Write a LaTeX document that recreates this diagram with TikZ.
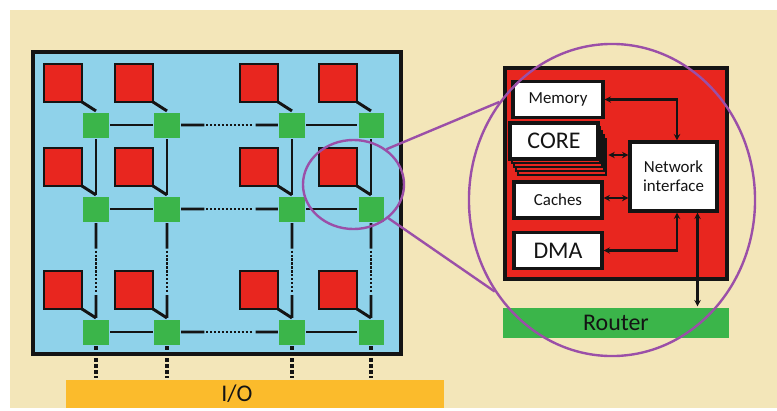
\documentclass[tikz,border=0pt]{standalone}
\usepackage{fontspec}
\setmainfont{Carlito}
\usetikzlibrary{arrows.meta,shapes.geometric,calc}
\definecolor{ink}{HTML}{141414}
\definecolor{paper}{HTML}{F3E6B9}
\definecolor{chip}{HTML}{8FD2EA}
\definecolor{tile}{HTML}{E8261F}
\definecolor{switch}{HTML}{3BB54A}
\definecolor{port}{HTML}{FBBB2C}
\definecolor{loupe}{HTML}{9B4FA8}

\begin{document}
\begin{tikzpicture}[
    x=0.025cm, y=-0.025cm, line width=2.2pt, color=ink,
    link/.style={line width=2.1pt},
    dotlink/.style={line width=2.1pt, dash pattern=on 1.6pt off 1.2pt},
    iolink/.style={line width=3pt, dash pattern=on 2.5pt off 1.8pt},
    router/.style={fill=switch, minimum size=0.625cm, inner sep=0pt},
    core/.style={draw=ink, fill=tile, line width=2.1pt, minimum size=0.95cm, inner sep=0pt},
    unit/.style={draw=ink, fill=white, line width=2.2pt, minimum width=2.2cm,
                 minimum height=0.9cm, inner sep=0pt, font=\fontsize{12}{13.5}\selectfont},
    big/.style={font=\fontsize{17}{20}\selectfont},
    bar/.style={inner sep=0pt, font=\fontsize{17}{20}\selectfont},
    bus/.style={line width=1.5pt, {Stealth[length=1.6mm,width=1.6mm]}-{Stealth[length=1.6mm,width=1.6mm]}},
    zoomring/.style={ellipse, draw=loupe, line width=1.7pt, inner sep=0pt}]
  % fixed 777 x 410 px canvas
  \path[use as bounding box] (0,0) rectangle (777,410);
  \fill[paper] (10,10) rectangle (777,408);

  % ================= 1) chip with 4 x 3 mesh =================
  \draw[fill=chip] (33,52) rectangle (401,354);
  \node[bar, fill=port, minimum width=9.45cm, minimum height=0.7cm] (io) at (255,394) {};
  \node[bar] (iotext) at (237,394) {I/O};
  % routers
  \foreach \x [count=\i] in {96,167,292,371}
    \foreach \y [count=\j] in {125,209,332}
      \node[router] (r-\i-\j) at (\x,\y) {};
  % horizontal links (dotted in the middle)
  \foreach \j in {1,2,3} {
    \draw[link] (r-1-\j) -- (r-2-\j) (r-3-\j) -- (r-4-\j);
    \draw[link] (r-2-\j.east) -- ($(r-2-\j.east)!0.24!(r-3-\j.west)$)
                ($(r-2-\j.east)!0.77!(r-3-\j.west)$) -- (r-3-\j.west);
    \draw[dotlink] ($(r-2-\j.east)!0.26!(r-3-\j.west)$) -- ($(r-2-\j.east)!0.73!(r-3-\j.west)$);
  }
  % vertical links and I/O ports
  \foreach \i in {1,...,4} {
    \draw[link] (r-\i-1) -- (r-\i-2);
    \draw[link] (r-\i-2.south) -- ($(r-\i-2.south)!0.27!(r-\i-3.north)$)
                ($(r-\i-2.south)!0.76!(r-\i-3.north)$) -- (r-\i-3.north);
    \draw[dotlink] ($(r-\i-2.south)!0.29!(r-\i-3.north)$) -- ($(r-\i-2.south)!0.74!(r-\i-3.north)$);
    \draw[iolink] (r-\i-3.south) -- (r-\i-3.south |- io.north);
  }
  % cores with their tails
  \foreach \x [count=\i] in {96,167,292,371}
    \foreach \y [count=\j] in {125,209,332} {
      \draw[link] (\x-14,\y-23) -- (r-\i-\j.north);
      \node[core] (c-\i-\j) at (\x-33,\y-42) {};
    }

  % ================= 2) one tile in detail =================
  \node[draw=ink, fill=tile, line width=2.2pt, minimum width=5.55cm, minimum height=5.275cm,
        inner sep=0pt] (tilebox) at (616,173.5) {};
  \node[bar, fill=switch, minimum width=5.65cm, minimum height=0.75cm] (rbar) at (616,323) {Router};
  \node[unit, minimum width=2.25cm] (mem) at (558,99.5) {Memory};
  \foreach \k in {4,3,2,1}
    \node[unit, fill=tile, line width=1.4pt] (stack-\k) at (554+2*\k,141+4*\k) {};
  \node[unit, big] (coreu) at (554,141) {CORE};
  \node[unit] (cache) at (558,200) {Caches};
  \node[unit, big] (dma) at (558,250.5) {DMA};
  \node[unit, align=center, minimum width=2.175cm, minimum height=1.725cm] (ni) at (673.5,176.5)
    {Network\\interface};
  \coordinate (nitop) at ($(ni.north)+(3.5,0)$);
  \coordinate (nibot) at ($(ni.south)+(3.5,0)$);
  \coordinate (niport) at ($(ni.south)+(24,0)$);
  \draw[bus] (mem.east) -| (nitop);
  \draw[bus, shorten <=1pt] ($(stack-4.east)+(0,-2)$) -- ($(stack-4.east -| ni.west)+(0,-2)$);
  \draw[bus] ($(cache.east)+(0,-2)$) -- ($(cache.east -| ni.west)+(0,-2)$);
  \draw[bus] (dma.east) -| (nibot);
  \draw[bus] (niport) -- (niport |- rbar.north);

  % ================= magnifier =================
  \node[zoomring, minimum width=2.525cm, minimum height=2.225cm] (spot) at (353.5,184.5) {};
  \node[zoomring, minimum width=7.15cm, minimum height=7.8cm] (detail) at (612,200) {};
  \draw[loupe, line width=1.7pt] (spot.47) -- (detail.139) (spot.-44) -- (detail.218);
\end{tikzpicture}
\end{document}
